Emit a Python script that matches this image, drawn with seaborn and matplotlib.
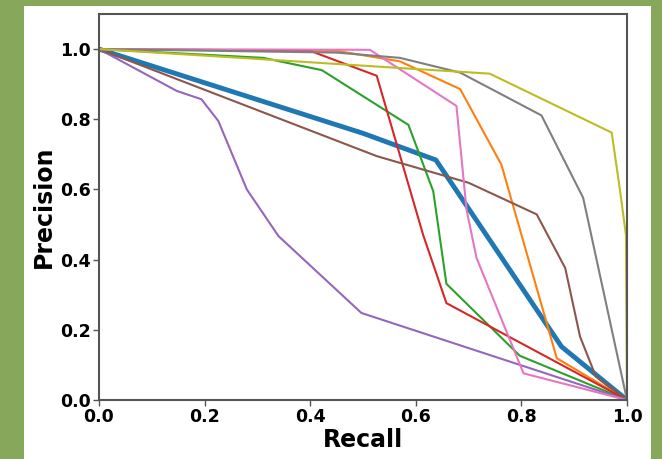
import matplotlib
matplotlib.use("Agg")
import matplotlib.pyplot as plt
import pandas as pd
import seaborn as sns
from matplotlib.patches import Rectangle

# recall / precision points, one curve per class
micro_recall = [0.0, 0.5, 0.638, 0.876, 1.0]
micro_precision = [1.0, 0.76, 0.684, 0.152, 0.0]

class_recall = [
    [0.0, 0.45, 0.57, 0.684, 0.762, 0.867, 1.0],
    [0.0, 0.311, 0.422, 0.586, 0.633, 0.658, 0.797, 1.0],
    [0.0, 0.40, 0.526, 0.614, 0.658, 1.0],
    [0.0, 0.147, 0.194, 0.226, 0.28, 0.34, 0.497, 1.0],
    [0.0, 0.526, 0.70, 0.829, 0.883, 0.911, 0.941, 1.0],
    [0.0, 0.513, 0.677, 0.696, 0.715, 0.804, 1.0],
    [0.0, 0.45, 0.57, 0.684, 0.838, 0.917, 1.0],
    [0.0, 0.30, 0.55, 0.74, 0.971, 0.987, 0.998, 1.0],
]
class_precision = [
    [1.0, 0.995, 0.965, 0.886, 0.671, 0.119, 0.0],
    [1.0, 0.975, 0.94, 0.784, 0.595, 0.331, 0.126, 0.0],
    [1.0, 0.995, 0.924, 0.47, 0.276, 0.0],
    [1.0, 0.881, 0.857, 0.795, 0.60, 0.467, 0.248, 0.0],
    [1.0, 0.695, 0.619, 0.529, 0.376, 0.181, 0.067, 0.0],
    [1.0, 0.998, 0.838, 0.543, 0.405, 0.076, 0.0],
    [1.0, 0.99, 0.975, 0.933, 0.811, 0.576, 0.0],
    [1.0, 0.972, 0.948, 0.93, 0.762, 0.595, 0.47, 0.0],
]
class_colors = ["C1", "C2", "C3", "C4", "C5", "C6", "C7", "C8"]

plt.rcParams["font.family"] = ["DejaVu Sans"]

fig = plt.figure(figsize=(6.62, 4.59), dpi=100, facecolor="#87a85a")
# white card on top of the green slide background
fig.patches.append(Rectangle((24 / 662, 0), 627 / 662, 453 / 459,
                             transform=fig.transFigure, facecolor="white",
                             edgecolor="none", zorder=-10))
ax = fig.add_axes([99 / 662, 59 / 459, 528 / 662, 386 / 459])
ax.set_zorder(5)

df = pd.DataFrame({"recall": micro_recall, "precision": micro_precision})
sns.lineplot(data=df, x="recall", y="precision", ax=ax, color="C0",
             linewidth=3.5, sort=False, estimator=None)

for r, p, c in zip(class_recall, class_precision, class_colors):
    d = pd.DataFrame({"recall": r, "precision": p})
    sns.lineplot(data=d, x="recall", y="precision", ax=ax, color=c,
                 linewidth=1.5, sort=False, estimator=None)

ax.set_xlim(0, 1)
ax.set_ylim(0, 1.1)
ax.set_yticks([0.0, 0.2, 0.4, 0.6, 0.8, 1.0])
ax.set_xticks([0.0, 0.2, 0.4, 0.6, 0.8, 1.0])
ax.set_xlabel("Recall", fontsize=17, fontweight="bold", labelpad=1)
ax.set_ylabel("Precision", fontsize=17, fontweight="bold", labelpad=3)
ax.tick_params(labelsize=12.5, color="#555555", length=4, width=1, pad=2)
for lab in ax.get_xticklabels() + ax.get_yticklabels():
    lab.set_fontweight("bold")
for s in ax.spines.values():
    s.set_color("#555555")
    s.set_linewidth(1.5)

fig.savefig("out.png", dpi=100, facecolor=fig.get_facecolor())
